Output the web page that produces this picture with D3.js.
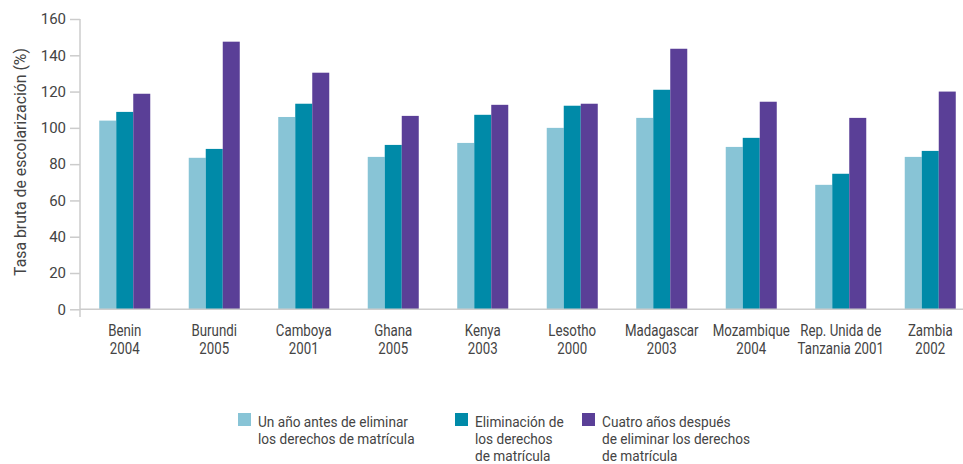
<!DOCTYPE html>
<html>
<head>
<meta charset="utf-8">
<script src="https://cdn.jsdelivr.net/npm/d3@7"></script>
<style>
  body { margin: 0; background: #fff; }
  text { font-family: Roboto, "Liberation Sans", sans-serif; fill: #444; }
</style>
</head>
<body>
<div id="chart"></div>
<script>
// countries (two-line labels)
var countries = ["Benin|2004", "Burundi|2005", "Camboya|2001", "Ghana|2005", "Kenya|2003",
                 "Lesotho|2000", "Madagascar|2003", "Mozambique|2004", "Rep. Unida de|Tanzania 2001", "Zambia|2002"];
var antes     = [104, 83.5, 106, 84, 91.7, 100, 105.5, 89.5, 68.6, 84];
var elimina   = [108.8, 88.4, 113.3, 90.6, 107.2, 112.2, 121, 94.5, 74.7, 87.3];
var despues   = [118.8, 147.5, 130.4, 106.6, 112.7, 113.3, 143.6, 114.4, 105.5, 120];
var yTicks    = [0, 20, 40, 60, 80, 100, 120, 140, 160];
var seriesNames = [
  ["Un año antes de eliminar", "los derechos de matrícula"],
  ["Eliminación de", "los derechos", "de matrícula"],
  ["Cuatro años después", "de eliminar los derechos", "de matrícula"]
];
var colors = ["#88c4d6", "#008aa8", "#5a3f97"];

var W = 963, H = 464;
var svg = d3.select("#chart").append("svg")
  .attr("width", W).attr("height", H);

var x0 = d3.scaleBand()
  .domain(countries)
  .range([80, 975])
  .paddingInner(0.43)
  .paddingOuter(0.215);
var x1 = d3.scaleBand()
  .domain([0, 1, 2])
  .range([0, x0.bandwidth()]);
var y = d3.scaleLinear()
  .domain([0, 160])
  .range([309.3, 19]);

var allSeries = [antes, elimina, despues];

// bars
var groups = svg.append("g").selectAll("g")
  .data(countries)
  .enter().append("g")
  .attr("transform", function(d) { return "translate(" + x0(d) + ",0)"; });

groups.selectAll("rect")
  .data(function(d, i) { return allSeries.map(function(s, k) { return {k: k, v: s[i]}; }); })
  .enter().append("rect")
  .attr("x", function(d) { return x1(d.k); })
  .attr("y", function(d) { return y(d.v); })
  .attr("width", x1.bandwidth())
  .attr("height", function(d) { return y(0) - y(d.v); })
  .attr("fill", function(d) { return colors[d.k]; });

// y axis
var yAxis = svg.append("g")
  .attr("transform", "translate(80,0)")
  .call(d3.axisLeft(y).tickValues(yTicks).tickSize(10).tickPadding(4));
yAxis.select(".domain").remove();
yAxis.selectAll("line").attr("stroke", "#ccc").attr("stroke-width", 1.5);
yAxis.selectAll("text").attr("font-size", 15).style("fill", "#444")
  .attr("font-family", null);
svg.append("line")
  .attr("x1", 80).attr("x2", 80).attr("y1", 19).attr("y2", 317)
  .attr("stroke", "#ccc").attr("stroke-width", 1.5);

// x axis line
svg.append("line")
  .attr("x1", 80).attr("x2", W).attr("y1", y(0)).attr("y2", y(0))
  .attr("stroke", "#ccc").attr("stroke-width", 1.5);

// x labels (condensed look: bigger size squeezed horizontally)
var xl = svg.append("g").selectAll("text")
  .data(countries)
  .enter().append("text")
  .attr("text-anchor", "middle")
  .attr("font-size", 16)
  .attr("transform", function(d) { return "translate(" + (x0(d) + x0.bandwidth() / 2) + ",335.5) scale(0.83,1)"; });
xl.selectAll("tspan")
  .data(function(d) { return d.split("|"); })
  .enter().append("tspan")
  .attr("x", 0)
  .attr("dy", function(d, i) { return i ? 18.5 : 0; })
  .text(function(d) { return d; });

// y label
svg.append("text")
  .attr("transform", "translate(26,162) rotate(-90) scale(0.93,1)")
  .attr("text-anchor", "middle")
  .attr("font-size", 17)
  .text("Tasa bruta de escolarización (%)");

// legend
var legX = [238, 455, 582];
var leg = svg.append("g").selectAll("g")
  .data(seriesNames)
  .enter().append("g")
  .attr("transform", function(d, i) { return "translate(" + legX[i] + ",413)"; });
leg.append("rect")
  .attr("width", 13).attr("height", 13)
  .attr("fill", function(d, i) { return colors[i]; });
leg.append("text")
  .attr("transform", "translate(20,14) scale(0.91,1)")
  .attr("font-size", 15)
  .selectAll("tspan")
  .data(function(d) { return d; })
  .enter().append("tspan")
  .attr("x", 0)
  .attr("dy", function(d, i) { return i ? 16.8 : 0; })
  .text(function(d) { return d; });
</script>
</body>
</html>
